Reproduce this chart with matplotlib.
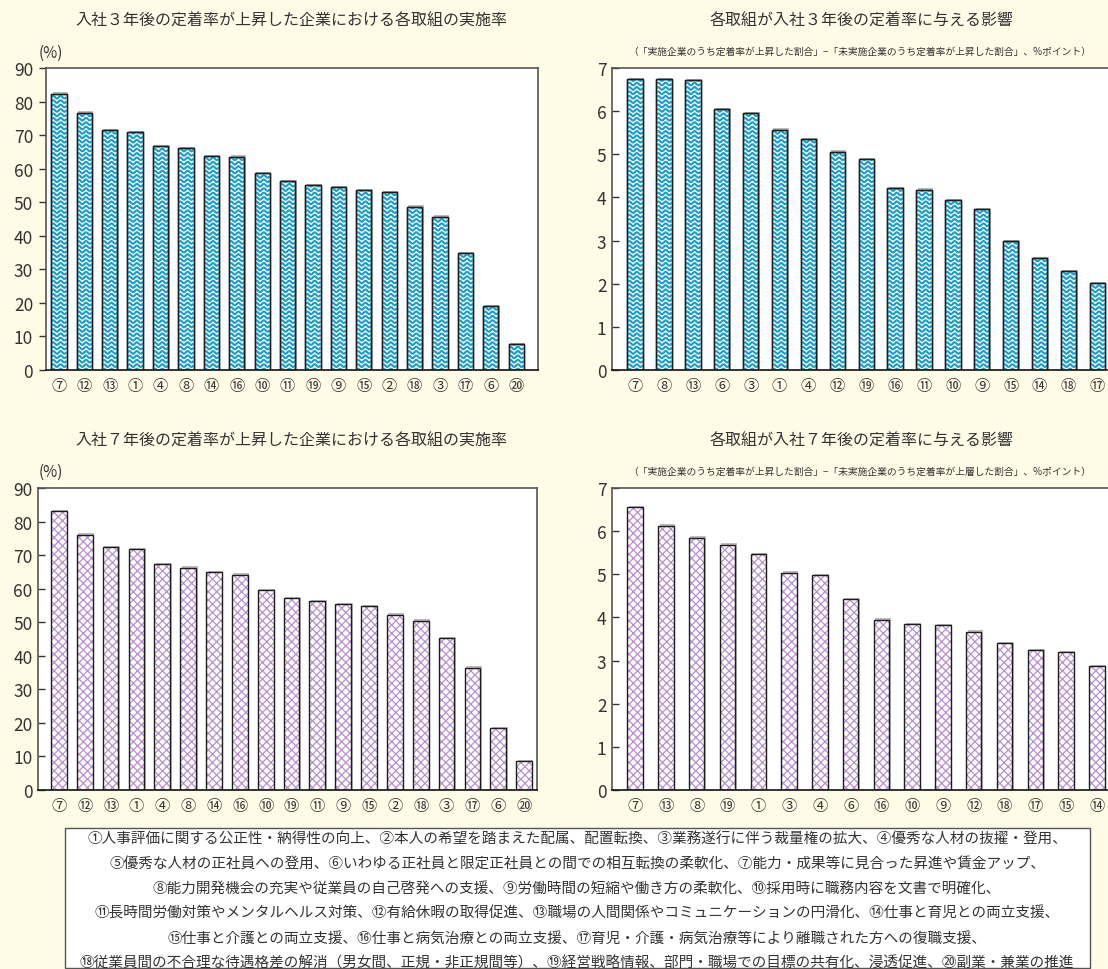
import numpy as np
import matplotlib.pyplot as plt
import matplotlib.transforms as mtransforms
from matplotlib.collections import LineCollection
from matplotlib.patches import Rectangle

plt.rcParams['font.family'] = ['Noto Sans CJK JP', 'DejaVu Sans']
plt.rcParams['hatch.linewidth'] = 0.9

W, H = 1108, 970
BG = '#fffbe6'
WAVE = '#1a9fcb'
LILAC = '#b890cb'

# 入社3年後：実施率 (%)
labels_3y = ['⑦', '⑫', '⑬', '①', '④', '⑧', '⑭', '⑯', '⑩', '⑪', '⑲', '⑨', '⑮', '②', '⑱', '③', '⑰', '⑥', '⑳']
rate_3y = [82.4, 76.7, 71.6, 70.8, 66.8, 66.2, 63.8, 63.6, 58.6, 56.2, 55.0, 54.4, 53.6, 53.0, 48.7, 45.7, 34.8, 19.0, 7.6]

# 入社3年後：影響 (%ポイント)
labels_3y_eff = ['⑦', '⑧', '⑬', '⑥', '③', '①', '④', '⑫', '⑲', '⑯', '⑪', '⑩', '⑨', '⑮', '⑭', '⑱', '⑰']
effect_3y = [6.75, 6.74, 6.72, 6.05, 5.96, 5.57, 5.36, 5.06, 4.88, 4.22, 4.18, 3.93, 3.73, 2.98, 2.60, 2.29, 2.02]

# 入社7年後：実施率 (%)
labels_7y = ['⑦', '⑫', '⑬', '①', '④', '⑧', '⑭', '⑯', '⑩', '⑲', '⑪', '⑨', '⑮', '②', '⑱', '③', '⑰', '⑥', '⑳']
rate_7y = [83.2, 76.1, 72.3, 71.9, 67.3, 66.3, 64.9, 64.2, 59.5, 57.1, 56.2, 55.3, 54.7, 52.3, 50.5, 45.3, 36.5, 18.4, 8.6]

# 入社7年後：影響 (%ポイント)
labels_7y_eff = ['⑦', '⑬', '⑧', '⑲', '①', '③', '④', '⑥', '⑯', '⑩', '⑨', '⑫', '⑱', '⑰', '⑮', '⑭']
effect_7y = [6.55, 6.13, 5.85, 5.69, 5.46, 5.04, 4.99, 4.42, 3.95, 3.85, 3.82, 3.67, 3.40, 3.24, 3.20, 2.87]

notes = [
    '①人事評価に関する公正性・納得性の向上、②本人の希望を踏まえた配属、配置転換、③業務遂行に伴う裁量権の拡大、④優秀な人材の抜擢・登用、',
    '⑤優秀な人材の正社員への登用、⑥いわゆる正社員と限定正社員との間での相互転換の柔軟化、⑦能力・成果等に見合った昇進や賃金アップ、',
    '⑧能力開発機会の充実や従業員の自己啓発への支援、⑨労働時間の短縮や働き方の柔軟化、⑩採用時に職務内容を文書で明確化、',
    '⑪長時間労働対策やメンタルヘルス対策、⑫有給休暇の取得促進、⑬職場の人間関係やコミュニケーションの円滑化、⑭仕事と育児との両立支援、',
    '⑮仕事と介護との両立支援、⑯仕事と病気治療との両立支援、⑰育児・介護・病気治療等により離職された方への復職支援、',
    '⑱従業員間の不合理な待遇格差の解消（男女間、正規・非正規間等）、⑲経営戦略情報、部門・職場での目標の共有化、浸透促進、⑳副業・兼業の推進',
]

fig = plt.figure(figsize=(W / 100, H / 100), dpi=100, facecolor=BG)


def panel(box, labels, values, ylim, yticks, xlim, width, style, tick_dir, right_open=False):
    l, t, r, b = box
    ax = fig.add_axes([l / W, 1 - b / H, (r - l) / W, (b - t) / H])
    ax.set_facecolor('white')
    x = np.arange(len(values))

    # light drop shadow behind each bar
    shift = mtransforms.ScaledTranslation(1.5 / 100, 1.2 / 100, fig.dpi_scale_trans)
    ax.bar(x, values, width, color='#bdbdbd', linewidth=0, transform=ax.transData + shift, zorder=1)

    if style == 'wave':
        bars = ax.bar(x, values, width, facecolor='white', edgecolor='#1c1c1c', linewidth=1.0, zorder=2)
        ppx = (r - l) / (xlim[1] - xlim[0])
        ppy = (b - t) / (ylim[1] - ylim[0])
        step, amp, period = 4.4 / ppy, 1.3 / ppy, 7.5 / ppx
        for rect in bars:
            x0, w, h = rect.get_x(), rect.get_width(), rect.get_height()
            xs = np.linspace(x0, x0 + w, 40)
            wave = amp * np.sin(2 * np.pi * (xs - x0) / period)
            segs = [np.column_stack([xs, y0 + wave]) for y0 in np.arange(0, h + step, step)]
            lc = LineCollection(segs, colors=WAVE, linewidths=1.55, zorder=2.5)
            ax.add_collection(lc)
            lc.set_clip_path(rect)
        ax.bar(x, values, width, fill=False, edgecolor='#1c1c1c', linewidth=1.0, zorder=3)
    else:
        ax.bar(x, values, width, facecolor='white', edgecolor=LILAC, hatch='xxxx', linewidth=0, zorder=2)
        ax.bar(x, values, width, fill=False, edgecolor='#1c1c1c', linewidth=1.0, zorder=3)

    ax.set_xlim(*xlim)
    ax.set_ylim(*ylim)
    ax.set_yticks(yticks)
    ax.set_xticks(x)
    ax.set_xticklabels(labels)
    ax.tick_params(axis='x', length=0, pad=5, labelsize=11, colors='#333333')
    ax.tick_params(axis='y', direction=tick_dir, length=5, width=1, pad=4,
                   labelsize=12.5, colors='#333333')
    for side in ['top', 'right', 'left']:
        ax.spines[side].set_color('#555555')
        ax.spines[side].set_linewidth(1.2)
    ax.spines['bottom'].set_color('#222222')
    ax.spines['bottom'].set_linewidth(1.3)
    if right_open:
        ax.spines['right'].set_visible(False)
    return ax


panel((45.7, 69, 537.5, 371), labels_3y, rate_3y, (0, 90), range(0, 91, 10),
      (-0.52, 18.84), 0.6, 'wave', 'out')
panel((612, 69, 1108, 371), labels_3y_eff, effect_3y, (0, 7), range(0, 8),
      (-0.8, 16.37), 0.53, 'wave', 'in', right_open=True)
panel((38, 489, 537, 791), labels_7y, rate_7y, (0, 90), range(0, 91, 10),
      (-0.81, 18.5), 0.61, 'cross', 'in')
panel((612, 489, 1108, 791), labels_7y_eff, effect_7y, (0, 7), range(0, 8),
      (-0.75, 15.36), 0.5, 'cross', 'in', right_open=True)


def ftext(x, y, s, **kw):
    fig.text(x / W, 1 - y / H, s, ha='center', va='center', color='#333333', **kw)


ftext(291, 21, '入社３年後の定着率が上昇した企業における各取組の実施率', fontsize=11.5)
ftext(862, 21, '各取組が入社３年後の定着率に与える影響', fontsize=11.5)
ftext(860, 52, '（「実施企業のうち定着率が上昇した割合」−「未実施企業のうち定着率が上昇した割合」、%ポイント）', fontsize=7.05)
ftext(291, 441, '入社７年後の定着率が上昇した企業における各取組の実施率', fontsize=11.5)
ftext(862, 441, '各取組が入社７年後の定着率に与える影響', fontsize=11.5)
ftext(860, 472, '（「実施企業のうち定着率が上昇した割合」−「未実施企業のうち定着率が上層した割合」、%ポイント）', fontsize=7.05)
ftext(51, 53, '(%)', fontsize=11)
ftext(51, 472, '(%)', fontsize=11)

# 取組の一覧
fig.patches.append(Rectangle((64.5 / W, 1 - 969 / H), (1090 - 64.5) / W, (969 - 829) / H,
                             transform=fig.transFigure, facecolor='white',
                             edgecolor='#555555', linewidth=1.0))
for i, line in enumerate(notes):
    ftext(577, 840 + i * 24.6, line, fontsize=10.5)

fig.savefig('out.png', dpi=100, facecolor=BG)
